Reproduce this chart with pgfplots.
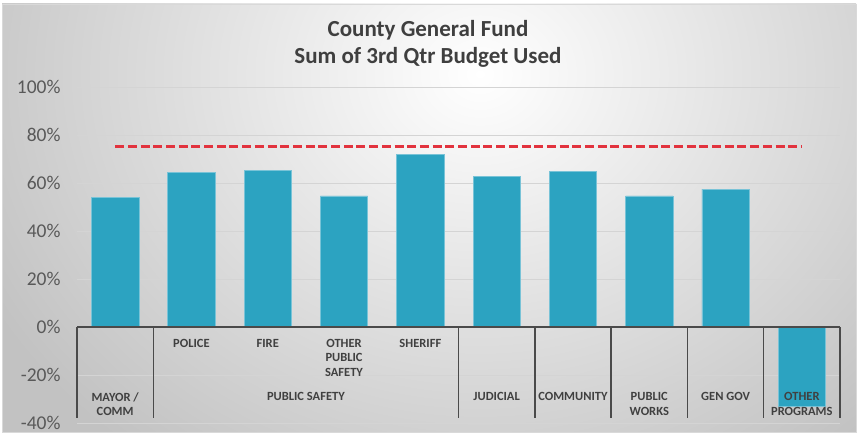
\documentclass[border=0pt]{standalone}
\usepackage{fontspec}
\setmainfont{Carlito}
\usepackage{pgfplots}
\pgfplotsset{compat=1.18}

\definecolor{barc}{HTML}{2CA3C1}
\definecolor{baredge}{HTML}{79C3D7}
\definecolor{redc}{HTML}{E2333E}
\definecolor{gridc}{HTML}{D4D4D4}
\definecolor{axisc}{HTML}{4A4A4A}
\definecolor{tickc}{HTML}{595959}
\definecolor{labc}{HTML}{404040}
\definecolor{titlec}{HTML}{3F3F3F}
\definecolor{bgout}{HTML}{C2C2C2}
\definecolor{framec}{HTML}{D9D9D9}

\begin{document}
\begin{tikzpicture}[x=1pt,y=1pt]
  \useasboundingbox (0,0) rectangle (858,434);
  % background: light in the top middle, grey towards the edges
  \begin{scope}
    \clip (2,2) rectangle (856,430);
    \shade[inner color=white, outer color=bgout] (-80,-120) rectangle (1040,840);
  \end{scope}
  \draw[framec, line width=0.8pt] (2,2) rectangle (856,430);

  \node[font=\fontsize{23}{27}\selectfont\bfseries, text=titlec, align=center]
    at (428,390) {County General Fund\\Sum of 3rd Qtr Budget Used};

  \begin{axis}[
      at={(77pt,11pt)}, anchor=south west,
      scale only axis,
      width=763pt, height=336pt,
      xmin=-0.5, xmax=9.5,
      ymin=-40, ymax=100,
      clip=false,
      axis line style={draw=none},
      xtick=\empty,
      ytick={-40,-20,0,20,40,60,80,100},
      yticklabels={-40\%,-20\%,0\%,20\%,40\%,60\%,80\%,100\%},
      major tick length=0pt,
      ymajorgrids,
      grid style={draw=gridc, line width=0.8pt},
      yticklabel style={font=\fontsize{19.5}{20}\selectfont, text=tickc, xshift=-13pt},
      bar width=0.62,
    ]

    % share of budget used, per category
    \addplot[ybar, fill=barc, draw=baredge, line width=0.6pt]
    coordinates {
      (0,54) (1,64.4) (2,65.1) (3,54.6) (4,72)
      (5,62.9) (6,64.7) (7,54.6) (8,57.4) (9,-33)
    };

    % 75% target
    \addplot[no marks, color=redc, line width=3pt, dash pattern=on 9pt off 3.7pt]
    coordinates {(0,75) (9,75)};

    % zero line and category table
    \draw[line width=1.5pt, axisc] (axis cs:-0.5,0) -- (axis cs:9.5,0);
    \pgfplotsinvokeforeach{-0.5,0.5,4.5,5.5,6.5,7.5,8.5,9.5}{
      \draw[line width=1.5pt, axisc] (axis cs:#1,0) -- (axis cs:#1,-37.9);
    }

    \begin{scope}[every node/.style={font=\fontsize{12.5}{14.5}\selectfont\bfseries,
        text=labc, align=center, anchor=north, inner sep=0pt}]
      \node at (axis cs:1,-5) {POLICE};
      \node at (axis cs:2,-5) {FIRE};
      \node at (axis cs:3,-5) {OTHER\\PUBLIC\\SAFETY};
      \node at (axis cs:4,-5) {SHERIFF};
      \node at (axis cs:0,-27.25) {MAYOR /\\COMM};
      \node at (axis cs:2.5,-27.25) {PUBLIC SAFETY};
      \node at (axis cs:5,-27.25) {JUDICIAL};
      \node at (axis cs:6,-27.25) {COMMUNITY};
      \node at (axis cs:7,-27.25) {PUBLIC\\WORKS};
      \node at (axis cs:8,-27.25) {GEN GOV};
      \node at (axis cs:9,-27.25) {OTHER\\PROGRAMS};
    \end{scope}
  \end{axis}
\end{tikzpicture}
\end{document}
